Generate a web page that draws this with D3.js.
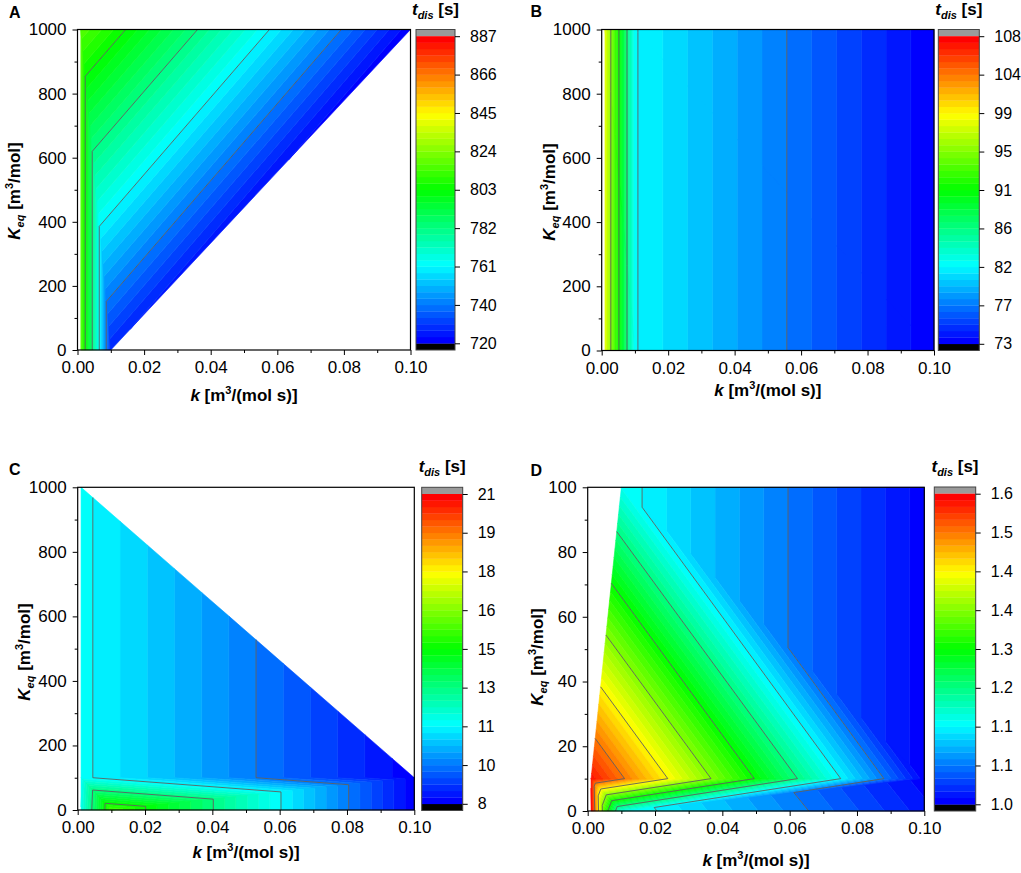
<!DOCTYPE html>
<html>
  <head>
    <meta charset="UTF-8">
    <style>
      body {
        margin: 0;
        background: white;
        font-family: "Liberation Sans", Arial, Helvetica, sans-serif;
      }

      .axis text {
        font-family: "Liberation Sans", Arial, sans-serif;
        font-size: 17px;
        fill: #000;
      }

      .cb-axis text {
        font-family: "Liberation Sans", Arial, sans-serif;
        font-size: 16px;
        fill: #000;
      }

      .axis line,
      .cb-axis line {
        stroke: #000;
        stroke-width: 1;
      }

      .title {
        font-family: "Liberation Sans", Arial, sans-serif;
        font-weight: bold;
        fill: #000;
      }
    </style>
    <script src="https://d3js.org/d3.v7.min.js"></script>
  </head>

  <body>
    <svg id="chart" width="1021" height="873"></svg>

    <script type="text/javascript">
      // axis ticks
      const kTicks = [0, 0.02, 0.04, 0.06, 0.08, 0.1]
      const kMinorTicks = [0.01, 0.03, 0.05, 0.07, 0.09]
      const keqTicksLarge = [0, 200, 400, 600, 800, 1000]
      const keqMinorLarge = [100, 300, 500, 700, 900]
      const keqTicksSmall = [0, 20, 40, 60, 80, 100]
      const keqMinorSmall = [10, 30, 50, 70, 90]

      // panel A: sample points [k, Keq, t_dis] and the mesh between them
      const pointsA = [
        [0.001, 0, 816.4],
        [0.01, 0, 727.0],
        [0.001, 1000, 816.4],
        [0.1, 1000, 720.4],
      ]
      const trianglesA = [[0, 1, 2], [1, 3, 2]]
      const rangeA = [719.6, 887.1]
      const labelsA = ['720', '740', '761', '782', '803', '824', '845', '866', '887']

      // panel B
      const pointsB = [
        [0.001, 0, 98.0],
        [0.01, 0, 81.8],
        [0.1, 0, 73.0],
        [0.001, 1000, 98.0],
        [0.01, 1000, 81.8],
        [0.1, 1000, 73.0],
      ]
      const trianglesB = [[0, 1, 3], [1, 4, 3], [1, 2, 4], [2, 5, 4]]
      const rangeB = [72.95, 108.0]
      const labelsB = ['73', '77', '82', '86', '91', '95', '99', '104', '108']

      // panel C
      const pointsC = [
        [0.001, 0, 11.5],
        [0.01, 0, 15.3],
        [0.1, 0, 8.0],
        [0.001, 100, 11.33],
        [0.1, 100, 8.0],
        [0.001, 1000, 11.33],
      ]
      const trianglesC = [[0, 1, 3], [1, 4, 3], [1, 2, 4], [3, 4, 5]]
      const rangeC = [7.95, 21.0]
      const labelsC = ['8', '10', '11', '13', '15', '16', '18', '19', '21']

      // panel D
      const pointsD = [
        [0.001, 0, 1.598],
        [0.005, 0, 1.33],
        [0.01, 0, 1.164],
        [0.1, 0, 1.013],
        [0.001, 10, 1.583],
        [0.1, 10, 1.0],
        [0.01, 100, 1.157],
        [0.1, 100, 1.0],
      ]
      const trianglesD = [[0, 1, 4], [1, 2, 4], [2, 5, 4], [2, 3, 5], [4, 5, 6], [6, 5, 7]]
      const rangeD = [0.995, 1.6]
      const labelsD = ['1.0', '1.1', '1.1', '1.2', '1.3', '1.4', '1.4', '1.5', '1.6']

      const levelCount = 48
      const levelsPerLabel = 6

      const rainbow = d3.scaleLinear()
        .domain([0, 0.25, 0.5, 0.75, 1])
        .range(['#0000ff', '#00ffff', '#00ff00', '#ffff00', '#ff0000'])

      const panels = [
        {
          letter: 'A', points: pointsA, triangles: trianglesA, range: rangeA, labels: labelsA,
          yMax: 1000, yTicks: keqTicksLarge, yMinor: keqMinorLarge,
          box: { x0: 77.5, x1: 410.5, y0: 29.5, y1: 350 },
          cb: { x0: 416, x1: 455, y0: 29.5, y1: 350 },
          letterPos: [9, 18], xTitleY: 401, yTitlePos: [20, 191], cbTitleY: 15,
        },
        {
          letter: 'B', points: pointsB, triangles: trianglesB, range: rangeB, labels: labelsB,
          yMax: 1000, yTicks: keqTicksLarge, yMinor: keqMinorLarge,
          box: { x0: 601.7, x1: 934, y0: 29.5, y1: 350.5 },
          cb: { x0: 938.3, x1: 979.3, y0: 29.5, y1: 350.5 },
          letterPos: [530.5, 17], xTitleY: 396, yTitlePos: [555, 192], cbTitleY: 15,
        },
        {
          letter: 'C', points: pointsC, triangles: trianglesC, range: rangeC, labels: labelsC,
          yMax: 1000, yTicks: keqTicksLarge, yMinor: keqMinorLarge,
          box: { x0: 77.7, x1: 414.3, y0: 487.3, y1: 810 },
          cb: { x0: 421.7, x1: 462.7, y0: 487.3, y1: 810.5 },
          letterPos: [9, 475], xTitleY: 858, yTitlePos: [30, 652], cbTitleY: 472,
        },
        {
          letter: 'D', points: pointsD, triangles: trianglesD, range: rangeD, labels: labelsD,
          yMax: 100, yTicks: keqTicksSmall, yMinor: keqMinorSmall,
          box: { x0: 587.7, x1: 924.3, y0: 487.3, y1: 811 },
          cb: { x0: 934.3, x1: 975.7, y0: 487, y1: 811 },
          letterPos: [530.5, 476], xTitleY: 866, yTitlePos: [543, 657], cbTitleY: 472,
        },
      ]

      // keep the part of a polygon above (or below) a level, interpolating along edges
      function clipPolygon(poly, level, keepAbove) {
        let out = []
        for (let i = 0; i < poly.length; i++) {
          let a = poly[i]
          let b = poly[(i + 1) % poly.length]
          let inA = keepAbove ? a[2] >= level : a[2] <= level
          let inB = keepAbove ? b[2] >= level : b[2] <= level
          if (inA) out.push(a)
          if (inA !== inB) {
            let t = (level - a[2]) / (b[2] - a[2])
            out.push([a[0] + t * (b[0] - a[0]), a[1] + t * (b[1] - a[1]), level])
          }
        }
        return out
      }

      function drawPanel(svg, panel) {
        let box = panel.box
        let cb = panel.cb
        let x = d3.scaleLinear().domain([0, 0.1]).range([box.x0, box.x1])
        let y = d3.scaleLinear().domain([0, panel.yMax]).range([box.y1, box.y0])

        let step = (panel.range[1] - panel.range[0]) / levelCount
        let thresholds = d3.range(levelCount + 1).map(i => panel.range[0] + i * step)
        let bandColor = i => rainbow(i / (levelCount - 1))

        // filled bands, one path per level
        let bandPaths = d3.range(levelCount).map(() => d3.path())
        panel.triangles.forEach(tri => {
          let poly = tri.map(i => panel.points[i])
          let values = poly.map(p => p[2])
          for (let i = 0; i < levelCount; i++) {
            let lo = i === 0 ? -Infinity : thresholds[i]
            let hi = i === levelCount - 1 ? Infinity : thresholds[i + 1]
            if (d3.max(values) < lo || d3.min(values) > hi) continue
            let part = clipPolygon(clipPolygon(poly, lo, true), hi, false)
            if (part.length < 3) continue
            let p = bandPaths[i]
            part.forEach((q, j) => j ? p.lineTo(x(q[0]), y(q[1])) : p.moveTo(x(q[0]), y(q[1])))
            p.closePath()
          }
        })

        let g = svg.append('g').attr('class', 'panel-' + panel.letter)

        g.append('g')
          .selectAll('path')
          .data(bandPaths)
          .enter()
          .append('path')
          .attr('d', d => d.toString())
          .attr('fill', (d, i) => bandColor(i))
          .attr('stroke', (d, i) => bandColor(i))
          .attr('stroke-width', 0.6)
          .attr('stroke-linejoin', 'round')

        // contour lines at the labelled levels
        let lines = d3.path()
        for (let j = levelsPerLabel; j < levelCount; j += levelsPerLabel) {
          let level = thresholds[j]
          panel.triangles.forEach(tri => {
            let poly = tri.map(i => panel.points[i])
            let hits = []
            for (let e = 0; e < 3; e++) {
              let a = poly[e]
              let b = poly[(e + 1) % 3]
              if ((a[2] < level) !== (b[2] < level)) {
                let t = (level - a[2]) / (b[2] - a[2])
                hits.push([a[0] + t * (b[0] - a[0]), a[1] + t * (b[1] - a[1])])
              }
            }
            if (hits.length === 2) {
              lines.moveTo(x(hits[0][0]), y(hits[0][1]))
              lines.lineTo(x(hits[1][0]), y(hits[1][1]))
            }
          })
        }
        g.append('path')
          .attr('d', lines.toString())
          .attr('fill', 'none')
          .attr('stroke', '#5f5f5f')
          .attr('stroke-width', 0.9)

        // frame
        g.append('rect')
          .attr('x', box.x0)
          .attr('y', box.y0)
          .attr('width', box.x1 - box.x0)
          .attr('height', box.y1 - box.y0)
          .attr('fill', 'none')
          .attr('stroke', '#000')
          .attr('stroke-width', 1.2)

        // axes
        let xAxis = g.append('g')
          .attr('class', 'axis')
          .attr('transform', `translate(0, ${box.y1})`)
          .call(d3.axisBottom(x).tickValues(kTicks).tickSize(5).tickPadding(6).tickFormat(d3.format('.2f')))
        xAxis.select('.domain').remove()
        g.append('g')
          .attr('class', 'axis')
          .attr('transform', `translate(0, ${box.y1})`)
          .call(d3.axisBottom(x).tickValues(kMinorTicks).tickSize(3).tickFormat(''))
          .select('.domain').remove()

        let yAxis = g.append('g')
          .attr('class', 'axis')
          .attr('transform', `translate(${box.x0}, 0)`)
          .call(d3.axisLeft(y).tickValues(panel.yTicks).tickSize(5).tickPadding(6).tickFormat(d3.format('d')))
        yAxis.select('.domain').remove()
        g.append('g')
          .attr('class', 'axis')
          .attr('transform', `translate(${box.x0}, 0)`)
          .call(d3.axisLeft(y).tickValues(panel.yMinor).tickSize(3).tickFormat(''))
          .select('.domain').remove()

        // color bar
        let cap = 6.7
        let cbY = d3.scaleLinear().domain(panel.range).range([cb.y1 - cap, cb.y0 + cap])
        let cbg = g.append('g').attr('class', 'colorbar')
        cbg.append('rect')
          .attr('x', cb.x0).attr('y', cb.y0)
          .attr('width', cb.x1 - cb.x0).attr('height', cbY(panel.range[1]) - cb.y0)
          .attr('fill', '#9a9a9a')
        cbg.append('rect')
          .attr('x', cb.x0).attr('y', cbY(panel.range[0]))
          .attr('width', cb.x1 - cb.x0).attr('height', cb.y1 - cbY(panel.range[0]))
          .attr('fill', '#000')
        cbg.selectAll('.band')
          .data(d3.range(levelCount))
          .enter()
          .append('rect')
          .attr('class', 'band')
          .attr('x', cb.x0)
          .attr('y', i => cbY(thresholds[i + 1]))
          .attr('width', cb.x1 - cb.x0)
          .attr('height', i => cbY(thresholds[i]) - cbY(thresholds[i + 1]) + 0.3)
          .attr('fill', i => bandColor(i))
        cbg.append('rect')
          .attr('x', cb.x0).attr('y', cb.y0)
          .attr('width', cb.x1 - cb.x0).attr('height', cb.y1 - cb.y0)
          .attr('fill', 'none')
          .attr('stroke', '#444')
          .attr('stroke-width', 1)

        let labelValues = d3.range(panel.labels.length)
          .map(j => panel.range[0] + j * (panel.range[1] - panel.range[0]) / (panel.labels.length - 1))
        g.append('g')
          .attr('class', 'cb-axis')
          .attr('transform', `translate(${cb.x1}, 0)`)
          .call(d3.axisRight(cbY).tickValues(labelValues).tickSize(5).tickPadding(10)
            .tickFormat((d, i) => panel.labels[i]))
          .select('.domain').remove()

        // titles
        let cbTitle = g.append('text')
          .attr('class', 'title')
          .attr('x', (cb.x0 + cb.x1) / 2)
          .attr('y', panel.cbTitleY)
          .attr('text-anchor', 'middle')
          .attr('font-size', 17)
        cbTitle.append('tspan').attr('font-style', 'italic').text('t')
        cbTitle.append('tspan').attr('font-style', 'italic').attr('font-size', 11).attr('dy', 4).text('dis')
        cbTitle.append('tspan').attr('dy', -4).text(' [s]')

        let xTitle = g.append('text')
          .attr('class', 'title')
          .attr('x', (box.x0 + box.x1) / 2)
          .attr('y', panel.xTitleY)
          .attr('text-anchor', 'middle')
          .attr('font-size', 17)
        xTitle.append('tspan').attr('font-style', 'italic').text('k')
        xTitle.append('tspan').text(' [m')
        xTitle.append('tspan').attr('font-size', 11).attr('dy', -7).text('3')
        xTitle.append('tspan').attr('dy', 7).text('/(mol s)]')

        let yTitle = g.append('text')
          .attr('class', 'title')
          .attr('transform', `translate(${panel.yTitlePos[0]}, ${panel.yTitlePos[1]}) rotate(-90)`)
          .attr('text-anchor', 'middle')
          .attr('font-size', 17)
        yTitle.append('tspan').attr('font-style', 'italic').text('K')
        yTitle.append('tspan').attr('font-style', 'italic').attr('font-size', 11).attr('dy', 4).text('eq')
        yTitle.append('tspan').attr('dy', -4).text(' [m')
        yTitle.append('tspan').attr('font-size', 11).attr('dy', -7).text('3')
        yTitle.append('tspan').attr('dy', 7).text('/mol]')

        g.append('text')
          .attr('class', 'title')
          .attr('x', panel.letterPos[0])
          .attr('y', panel.letterPos[1])
          .attr('font-size', 16)
          .text(panel.letter)
      }

      let svg = d3.select('#chart')
      panels.forEach(panel => drawPanel(svg, panel))
    </script>
  </body>
</html>
